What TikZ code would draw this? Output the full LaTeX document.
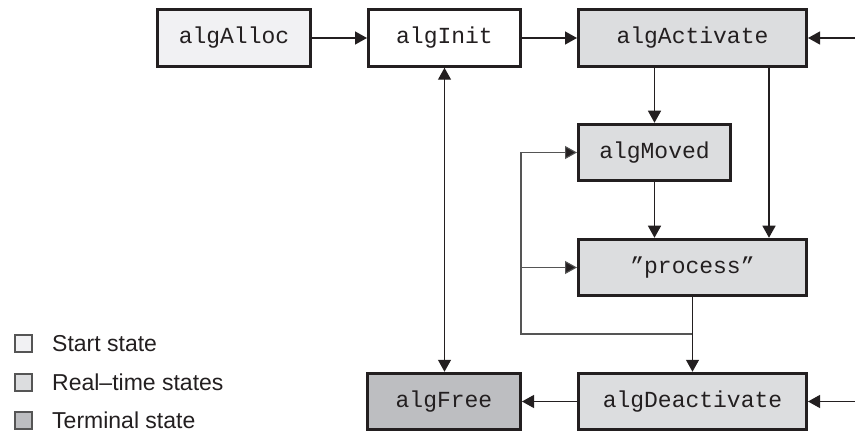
\documentclass[tikz,border=0pt]{standalone}
\usepackage{fontspec}
\setmainfont{Liberation Sans}
\setmonofont{Liberation Mono}
\usetikzlibrary{arrows.meta}
\definecolor{ink}{HTML}{231F20}
\definecolor{startfill}{HTML}{F1F1F3}
\definecolor{rtfill}{HTML}{DCDDDF}
\definecolor{termfill}{HTML}{BDBEC1}
\definecolor{loopgrey}{HTML}{555555}
\tikzset{
  state/.style={draw=ink, line width=3pt, inner sep=0pt, minimum height=56.5pt,
    font=\ttfamily\fontsize{23}{25}\selectfont, text=ink},
  conn/.style={draw=ink, line width=1.3pt, -{Triangle[length=12pt,width=13pt]}},
  dconn/.style={draw=ink, line width=1.3pt, {Triangle[length=12pt,width=13pt]}-{Triangle[length=12pt,width=13pt]}},
  loopl/.style={draw=loopgrey, line width=1.1pt},
  loopa/.style={draw=loopgrey, line width=1.1pt, -{Triangle[length=12pt,width=13pt,fill=ink]}},
  legbox/.style={draw=loopgrey, line width=1.2pt, minimum size=17pt, inner sep=0pt},
  legtext/.style={anchor=west, inner sep=0pt, font=\fontsize{23}{25}\selectfont, text=ink}
}
\begin{document}
\begin{tikzpicture}[x=1pt,y=-1pt]
\useasboundingbox (0,0) rectangle (855,433);
% states
\node[state, fill=startfill, minimum width=153pt] (algAlloc) at (234,38) {algAlloc};
\node[state, fill=white, minimum width=152pt] (algInit) at (444.5,38) {algInit};
\node[state, fill=rtfill, minimum width=228pt] (algActivate) at (692.5,38) {algActivate};
\node[state, fill=rtfill, minimum width=152pt] (algMoved) at (654.5,152.5) {algMoved};
\node[state, fill=rtfill, minimum width=228pt] (process) at (692.5,267.5) {”process”};
\node[state, fill=rtfill, minimum width=228pt] (algDeactivate) at (692.5,401.5) {algDeactivate};
\node[state, fill=termfill, minimum width=153pt] (algFree) at (444,401.5) {algFree};
% free ends
\coordinate (rin1) at (855,38);
\coordinate (rin2) at (855,401.5);
\coordinate (lp) at (521,334);
% connectors
\draw[conn] (algAlloc) -- (algInit);
\draw[conn] (algInit) -- (algActivate);
\draw[conn] (rin1) -- (algActivate);
\draw[conn] (rin2) -- (algDeactivate);
\draw[conn] (algDeactivate) -- (algFree);
\draw[conn] (algMoved.north |- algActivate.south) -- (algMoved.north);
\draw[conn] ([xshift=76.5pt]algActivate.south) coordinate (t) -- (t |- process.north);
\draw[conn] (algMoved.south) -- (algMoved.south |- process.north);
\draw[loopl] (process.south |- lp) -- (lp) -- (lp |- process.west);
\draw[loopa] (lp |- process.west) |- (algMoved.west);
\draw[loopa] (lp |- process.west) -- (process.west);
\draw[conn] (process.south) -- (algDeactivate.north);
\draw[dconn] (algInit.south) -- (algInit.south |- algFree.north);
% legend
\node[legbox, fill=startfill] (lg1) at (23.5,343.5) {};
\node[legbox, fill=rtfill] (lg2) at (23.5,382.5) {};
\node[legbox, fill=termfill] (lg3) at (23.5,420.5) {};
\node[legtext] (lt1) at (52,343.5) {Start state};
\node[legtext] (lt2) at (52,382.5) {Real–time states};
\node[legtext] (lt3) at (52,420.5) {Terminal state};
\end{tikzpicture}
\end{document}
